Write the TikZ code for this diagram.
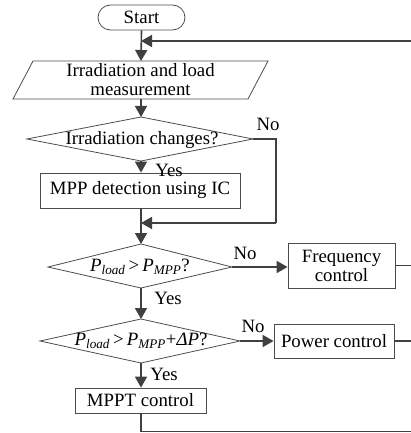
\documentclass[tikz,border=0pt]{standalone}
\usepackage{fontspec}
\setmainfont{Liberation Serif}
\usetikzlibrary{arrows.meta}
\begin{document}
\begin{tikzpicture}[x=1pt,y=-1pt,
  every node/.style={font=\fontsize{18.8}{21}\selectfont, inner sep=0pt},
  shp/.style={draw=black!70, line width=0.8pt},
  conn/.style={draw=black!75, line width=1.6pt},
  arr/.style={conn, -{Triangle[length=11pt,width=12pt]}},
  lbl/.style={font=\fontsize{18.8}{21}\selectfont},
  box/.style={shp, rectangle, align=center}
]
\useasboundingbox (0,0) rectangle (411,433);
% Start
\node[shp, rectangle, rounded corners=12.5pt, minimum width=87pt, minimum height=25pt] (start) at (141.5,17.5) {Start};
% measurement parallelogram
\coordinate (mtl) at (33,61); \coordinate (mtr) at (268,61);
\coordinate (mbr) at (248,99); \coordinate (mbl) at (13,99);
\draw[shp] (mtl) -- (mtr) -- (mbr) -- (mbl) -- cycle;
\node[align=center] (meas) at (140.5,80) {Irradiation and load\\[-2pt]measurement};
\coordinate (mt) at (141,61); \coordinate (mb) at (141,99);
% diamond 1
\coordinate (d1t) at (141,117); \coordinate (d1r) at (253,139);
\coordinate (d1b) at (141,161); \coordinate (d1l) at (27,139);
\draw[shp] (d1t) -- (d1r) -- (d1b) -- (d1l) -- cycle;
\node (d1) at (142,140) {Irradiation changes?};
% MPP box
\node[box, minimum width=200pt, minimum height=35pt] (mpp) at (140,190.5) {MPP detection using IC};
% diamond 2
\coordinate (d2t) at (141,244); \coordinate (d2r) at (232,267);
\coordinate (d2b) at (141,288); \coordinate (d2l) at (48,267);
\draw[shp] (d2t) -- (d2r) -- (d2b) -- (d2l) -- cycle;
\node (d2) at (140,267) {\textit{P}\textsubscript{\textit{load}}\,>\,\textit{P}\textsubscript{\textit{MPP}}?};
% frequency box
\node[box, minimum width=107pt, minimum height=45pt] (freq) at (341.5,265.5) {Frequency\\[-2pt]control};
% diamond 3
\coordinate (d3t) at (141,319); \coordinate (d3r) at (240,341);
\coordinate (d3b) at (141,363); \coordinate (d3l) at (40,341);
\draw[shp] (d3t) -- (d3r) -- (d3b) -- (d3l) -- cycle;
\node (d3) at (141,341) {\textit{P}\textsubscript{\textit{load}}\,>\,\textit{P}\textsubscript{\textit{MPP}}+\textit{ΔP}?};
% power box
\node[box, minimum width=120pt, minimum height=34pt] (pow) at (334,341) {Power control};
% MPPT box
\node[box, minimum width=131pt, minimum height=25pt] (mppt) at (140.5,400.5) {MPPT control};
% connectors
\coordinate (fb) at (141,41);
\coordinate (fbr) at (412,41);
\coordinate (br) at (412,431.5);
\coordinate (nor) at (276,139);
\coordinate (nob) at (276,223);
\coordinate (join) at (141,223);
\draw[arr] (start.south) -- (mt);
\draw[arr] (fbr) -- (fb);
\draw[arr] (mb) -- (d1t);
\draw[arr] (d1b) -- (mpp.north -| d1b);
\draw[conn] (d1r) -- (nor) -- (nob);
\draw[arr] (nob) -- (join);
\draw[arr] (mpp.south -| d2t) -- (d2t);
\draw[arr] (d2r) -- (freq.west |- d2r);
\draw[conn] (freq.east) -- (freq.east -| br);
\draw[arr] (d2b) -- (d3t);
\draw[arr] (d3r) -- (pow.west |- d3r);
\draw[conn] (pow.east) -- (pow.east -| br);
\draw[arr] (d3b) -- (mppt.north -| d3b);
\draw[conn] (mppt.south -| d3b) -- (d3b |- br) -- (br);
% labels
\node[lbl] (no1) at (268,124) {No};
\node[lbl] (yes1) at (169,170) {Yes};
\node[lbl] (no2) at (245,253) {No};
\node[lbl] (yes2) at (168,298) {Yes};
\node[lbl] (no3) at (253,326) {No};
\node[lbl] (yes3) at (164,374) {Yes};
\end{tikzpicture}
\end{document}
